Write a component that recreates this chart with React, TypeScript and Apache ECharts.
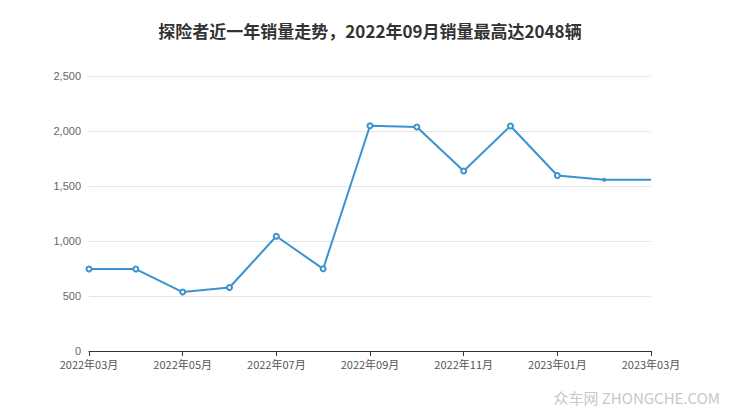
import React, { useEffect, useRef } from "react";
import * as echarts from "echarts";

const titleText = "探险者近一年销量走势，2022年09月销量最高达2048辆";
const months = [
  "2022年03月", "2022年04月", "2022年05月", "2022年06月", "2022年07月", "2022年08月",
  "2022年09月", "2022年10月", "2022年11月", "2022年12月", "2023年01月", "2023年02月", "2023年03月",
];
const sales = [745, 745, 536, 577, 1043, 747, 2048, 2036, 1636, 2046, 1595, 1556, 1556];
const watermark = "众车网 ZHONGCHE.COM";

export default function App() {
  const ref = useRef<HTMLDivElement>(null);
  useEffect(() => {
    if (!ref.current) return;
    const chart = echarts.init(ref.current, null, { renderer: "svg" });
    chart.setOption({
      animation: false,
      backgroundColor: "#fff",
      title: {
        text: titleText,
        left: "center",
        top: 17,
        textStyle: { fontSize: 17, fontWeight: "bold", color: "#333", fontFamily: "Noto Sans CJK SC" },
      },
      grid: { left: 89, right: 89, top: 76, bottom: 66 },
      xAxis: {
        type: "category",
        data: months,
        boundaryGap: false,
        axisLine: { lineStyle: { color: "#333" } },
        axisTick: { interval: 1, lineStyle: { color: "#333" } },
        axisLabel: { interval: 1, color: "#555", fontSize: 11, fontFamily: "Noto Sans CJK SC", margin: 7 },
      },
      yAxis: {
        type: "value",
        min: 0,
        max: 2500,
        interval: 500,
        axisLine: { show: false },
        axisTick: { show: false },
        axisLabel: {
          color: "#666",
          fontSize: 11,
          margin: 8,
          formatter: (v: number) => v.toLocaleString("en-US"),
        },
        splitLine: { lineStyle: { color: "#e6e6e6" } },
      },
      series: [
        {
          type: "line",
          data: sales.map((v, i) =>
            i === sales.length - 1
              ? { value: v, symbol: "none" }
              : i === sales.length - 2
              ? { value: v, symbolSize: 2 }
              : v
          ),
          symbol: "emptyCircle",
          symbolSize: 5,
          showAllSymbol: true,
          lineStyle: { color: "#3a93cf", width: 2 },
          itemStyle: { color: "#3a93cf", borderWidth: 1.5 },
        },
      ],
      graphic: [
        {
          type: "text",
          right: 20,
          top: 390,
          style: {
            text: watermark,
            fill: "#c8c8c8",
            fontSize: 15,
            fontFamily: "Noto Sans CJK SC",
          },
        },
      ],
    });
    return () => chart.dispose();
  }, []);
  return (
    <div
      ref={ref}
      style={{ position: "fixed", left: 0, top: 0, width: 740, height: 417 }}
    />
  );
}
